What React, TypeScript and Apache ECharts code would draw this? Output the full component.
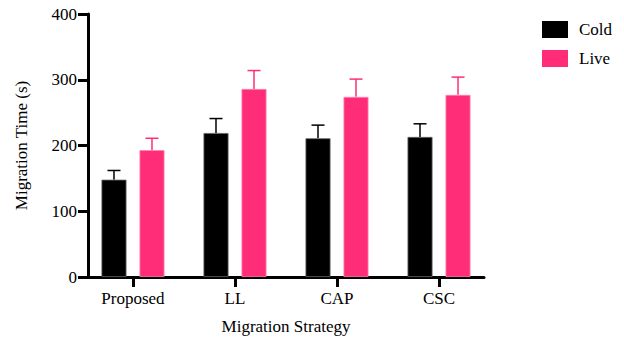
import React, { useEffect, useRef } from "react";
import * as echarts from "echarts";

const categories = ["Proposed", "LL", "CAP", "CSC"];
const coldMeans = [148, 219, 211, 213];
const coldErr = [14, 22, 20, 20];
const liveMeans = [193, 286, 274, 277];
const liveErr = [18, 28, 27, 27];
const yTicks = [0, 100, 200, 300, 400];

const PINK = "#FF2D78";
const FONT = "Liberation Serif";
const FS = 17;

export default function App() {
  const ref = useRef<HTMLDivElement>(null);
  useEffect(() => {
    if (!ref.current) return;
    const chart = echarts.init(ref.current, null, { renderer: "svg" });
    const BAR_W = 25;
    const GAP = 13;
    const shift = (BAR_W + GAP) / 2;
    const errSeries = (means: number[], errs: number[], color: string, dx: number) => ({
      type: "custom",
      name: "err",
      silent: true,
      z: 1,
      data: means.map((m, i) => [i, m, m + errs[i]]),
      encode: { x: 0, y: [1, 2] },
      renderItem: (params: any, api: any) => {
        const x = api.value(0);
        const lo = api.coord([x, api.value(1)]);
        const hi = api.coord([x, api.value(2)]);
        const cx = lo[0] + dx;
        return {
          type: "group",
          children: [
            { type: "line", shape: { x1: cx, y1: lo[1], x2: cx, y2: hi[1] }, style: { stroke: color, lineWidth: 1.5 } },
            { type: "line", shape: { x1: cx - 6.5, y1: hi[1], x2: cx + 6.5, y2: hi[1] }, style: { stroke: color, lineWidth: 1.5 } },
          ],
        };
      },
    });
    chart.setOption({
      animation: false,
      textStyle: { fontFamily: FONT },
      grid: { left: 88, right: 140, top: 14, bottom: 61.5, containLabel: false },
      legend: {
        data: ["Cold", "Live"],
        orient: "vertical",
        left: 542,
        top: 21,
        padding: 0,
        itemWidth: 26,
        itemHeight: 17,
        itemGap: 12,
        itemStyle: { borderWidth: 0 },
        textStyle: { fontFamily: FONT, fontSize: FS, color: "#000", padding: [0, 0, 0, 6] },
        icon: "rect",
      },
      xAxis: {
        type: "value",
        min: -0.441,
        max: 3.441,
        splitLine: { show: false },
        axisLine: { show: true, onZero: false, lineStyle: { color: "#000", width: 3 } },
        axisTick: { show: true, customValues: [0, 1, 2, 3], length: 10, lineStyle: { color: "#000", width: 3 } },
        axisLabel: {
          customValues: [0, 1, 2, 3],
          formatter: (v: number) => categories[Math.round(v)] ?? "",
          fontFamily: FONT,
          fontSize: FS,
          color: "#000",
          margin: 13,
        },
        name: "Migration Strategy",
        nameLocation: "middle",
        nameGap: 41,
        nameTextStyle: { fontFamily: FONT, fontSize: FS, color: "#000" },
      },
      yAxis: {
        type: "value",
        min: 0,
        max: 400,
        interval: 100,
        splitLine: { show: false },
        axisLine: { show: true, onZero: false, lineStyle: { color: "#000", width: 3 } },
        axisTick: { show: true, length: 10, lineStyle: { color: "#000", width: 3 } },
        axisLabel: {
          fontFamily: FONT,
          fontSize: FS,
          color: "#000",
          margin: 11,
          formatter: (v: number) => (yTicks.includes(v) ? String(v) : ""),
        },
        name: "Migration Time (s)",
        nameLocation: "middle",
        nameGap: 58,
        nameTextStyle: { fontFamily: FONT, fontSize: FS, color: "#000" },
      },
      series: [
        {
          name: "Cold",
          type: "bar",
          barWidth: BAR_W,
          barGap: (GAP / BAR_W) * 100 + "%",
          data: coldMeans.map((v, i) => [i, v]),
          itemStyle: { color: "#000", borderColor: "#666", borderWidth: 0.8 },
          z: 2,
        },
        {
          name: "Live",
          type: "bar",
          barWidth: BAR_W,
          barGap: (GAP / BAR_W) * 100 + "%",
          data: liveMeans.map((v, i) => [i, v]),
          itemStyle: { color: PINK, borderColor: "#ff86b0", borderWidth: 0.8 },
          z: 2,
        },
        errSeries(coldMeans, coldErr, "#000", -shift),
        errSeries(liveMeans, liveErr, PINK, shift),
      ],
    });
    return () => chart.dispose();
  }, []);
  return <div ref={ref} style={{ width: 624, height: 340, position: "absolute", left: 0, top: 0 }} />;
}
